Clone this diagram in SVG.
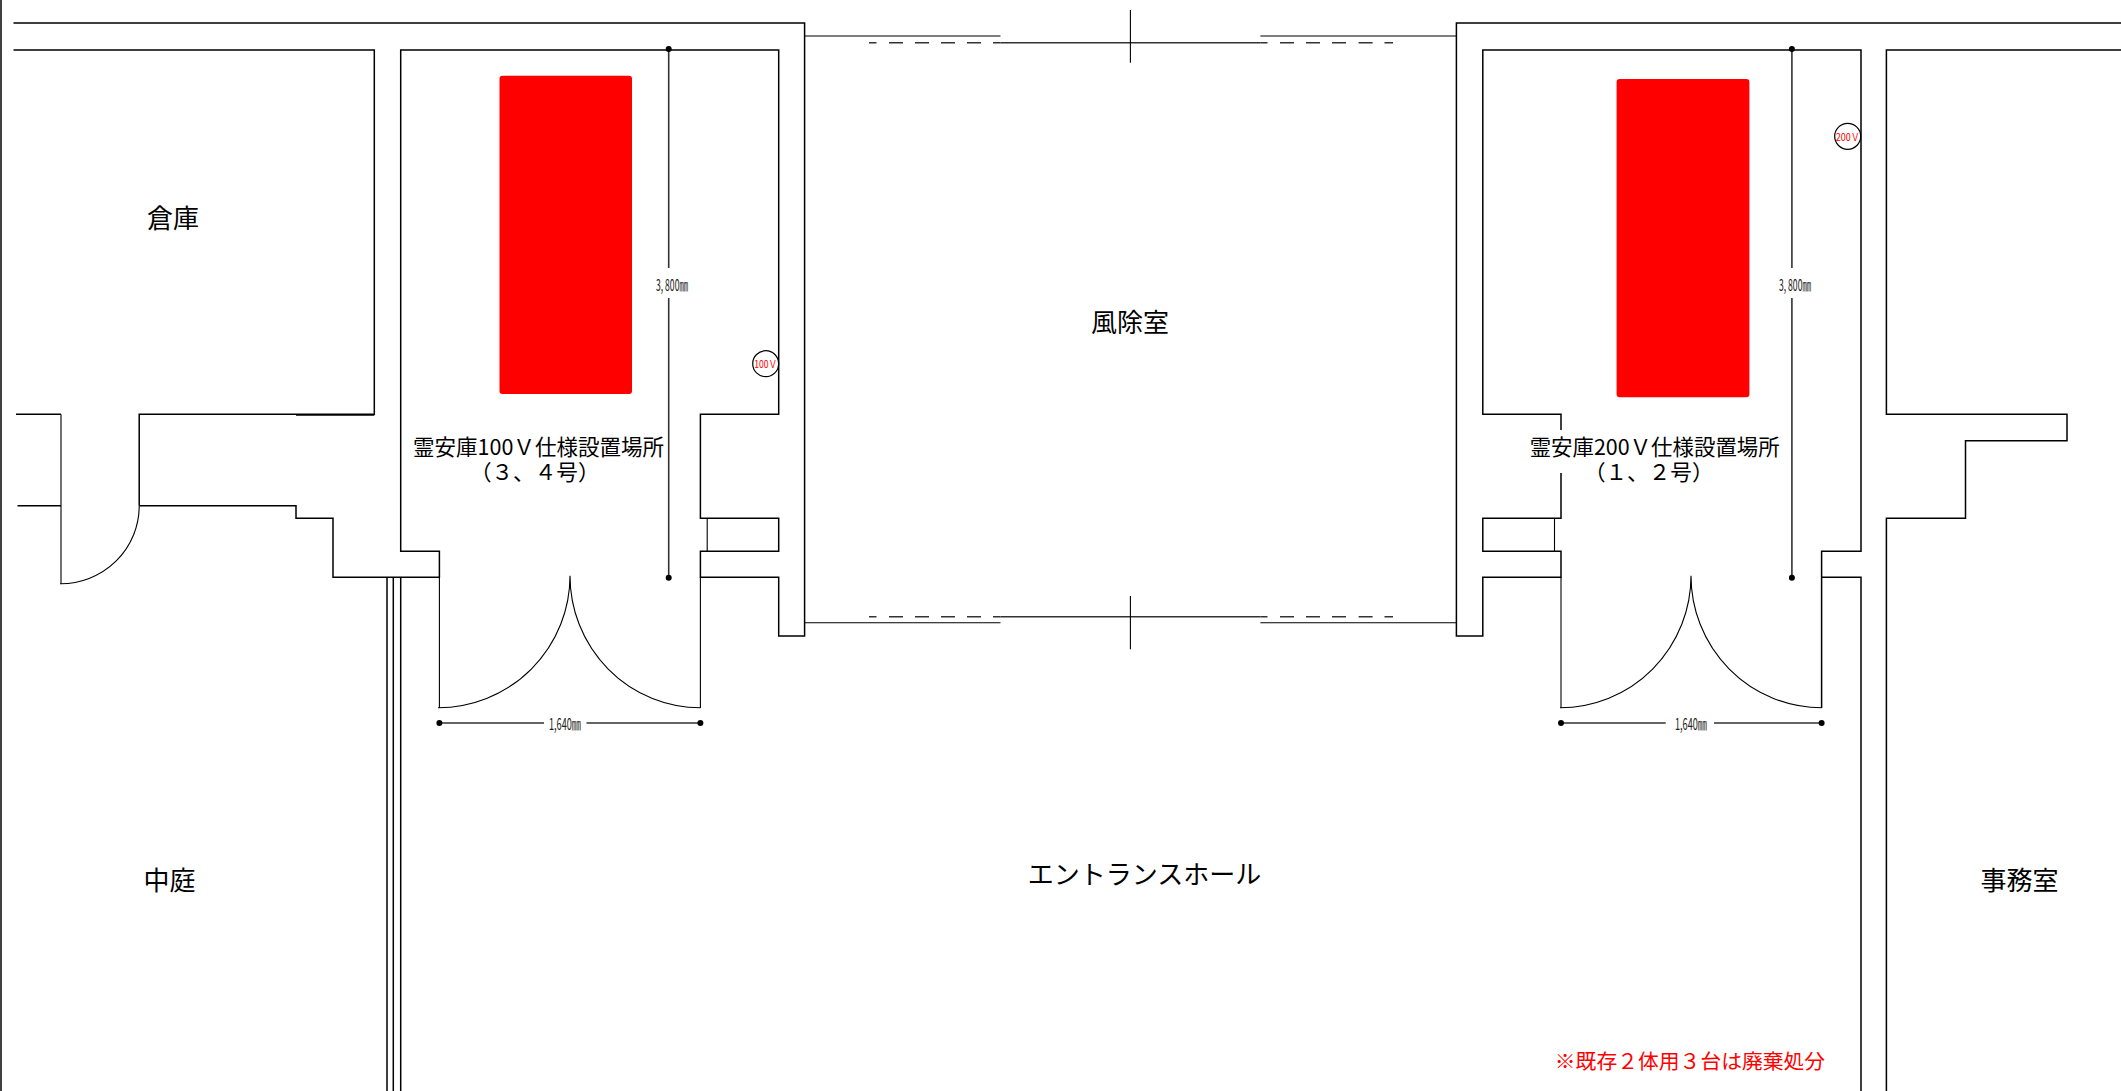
<svg xmlns="http://www.w3.org/2000/svg" width="2121" height="1091" viewBox="0 0 2121 1091">
<style>
.w{fill:none;stroke:#000;stroke-width:1.5}
.t{fill:none;stroke:#000;stroke-width:1.1}
.g{fill:none;stroke:#333;stroke-width:1.6}
.dot{fill:#000}
text{font-family:"Noto Sans CJK JP","Noto Sans",sans-serif}
.room{font-size:26px;text-anchor:middle;dominant-baseline:central;fill:#000}
.lab{font-size:21.6px;fill:#000;dominant-baseline:central}
.dim{font-size:16px;fill:#222;dominant-baseline:central}
.v{font-size:10px;fill:#f00;text-anchor:middle;dominant-baseline:central}
</style>
<rect width="2121" height="1091" fill="#fff"/>
<g id="walls">
<path class="w" d="M1 0V1091"/>
<path class="w" d="M13.500 23H804.600V636H778.700V577.300H700.400V551.300H778.700V518.300H700.400V414.300H778.700V50H400.700V551.300H439.400V577.300H333V518.300H296V505.700H139.200"/>
<path class="w" d="M13.500 50H374.300V414.300H139.200V505.700"/>
<path class="w" d="M296 415H374.300"/>
<path class="w" d="M61 414.300H16M61 505.700H17.500"/>
<path class="t" d="M61 414.300V583.700"/>
<path class="w" d="M400.700 577.300V1091M387 577.300V1091M393.300 577.300V1091"/>
<path class="t" d="M707.200 518.300V551.300"/>
<path class="t" d="M439.400 577.300V708M700.400 577.300V708"/>
<path class="w" d="M2121 23H1456.400V636H1482.800V577.300H1561V551.300H1482.800V518.300H1561V414.300H1482.800V50H1861V551.300H1821.600V708"/>
<path class="t" d="M1554.500 518.300V551.300"/>
<path class="w" d="M1821.600 577.300H1861V1091"/>
<path class="t" d="M1561 577.300V708"/>
<path class="w" d="M2121 50H1886.400V414.300H2067V440.700H1965.500V518.300H1886.400V1091"/>
</g>
<g id="windows">
<path class="t" d="M804.600 36H1000.500M1260.400 36H1456.400M804.600 622.700H1000.500M1260.400 622.700H1456.400"/>
<path class="g" d="M1000.500 42.700H1260.400M1000.500 616.700H1260.400"/>
<path class="t" d="M1130.400 10V62.700M1130.400 596V649.300"/>
<path class="g" d="M869 42.700H876.500M889 42.700H903M915 42.700H929M941 42.700H955M967 42.700H981M993 42.700H1000.500M1260.400 42.700H1267.500M1280 42.700H1294M1306 42.700H1320M1332 42.700H1346M1358.600 42.700H1372.600M1384.500 42.700H1393"/>
<path class="g" d="M869 616.700H876.500M889 616.700H903M915 616.700H929M941 616.700H955M967 616.700H981M993 616.700H1000.500M1260.400 616.700H1267.500M1280 616.700H1294M1306 616.700H1320M1332 616.700H1346M1358.600 616.700H1372.600M1384.500 616.700H1393"/>
</g>
<g id="doors">
<path class="t" d="M60 583.700A78.500 77.700 0 0 0 139.200 506"/>
<path class="t" d="M438 707.700A132 132 0 0 0 570 575.700M700.400 707.700A130.400 132 0 0 1 570 575.700"/>
<path class="t" d="M1560 707.700A131 132 0 0 0 1691 575.700M1821.600 707.700A130.600 132 0 0 1 1691 575.700"/>
</g>
<g id="dimensions">
<path class="g" d="M439.400 723H544M586.500 723H700.400M668.700 49V268M668.700 298V577.700"/>
<path class="g" d="M1561 723H1665.700M1714 723H1821.600M1791.900 49V268M1791.900 298V577.700"/>
<circle class="dot" cx="439.400" cy="723" r="3"/><circle class="dot" cx="700.400" cy="723" r="3"/>
<circle class="dot" cx="668.700" cy="49" r="3"/><circle class="dot" cx="668.700" cy="577.700" r="3"/>
<circle class="dot" cx="1561" cy="723" r="3"/><circle class="dot" cx="1821.600" cy="723" r="3"/>
<circle class="dot" cx="1791.900" cy="49" r="3"/><circle class="dot" cx="1791.900" cy="577.700" r="3"/>
<text class="dim" x="549" y="722.500" textLength="32" lengthAdjust="spacingAndGlyphs">1,640㎜</text>
<text class="dim" x="1675" y="722.500" textLength="32" lengthAdjust="spacingAndGlyphs">1,640㎜</text>
<text class="dim" x="656" y="284" textLength="32" lengthAdjust="spacingAndGlyphs">3, 800㎜</text>
<text class="dim" x="1779" y="284" textLength="32" lengthAdjust="spacingAndGlyphs">3, 800㎜</text>
</g>
<g id="cabinet-100v"><rect x="499.500" y="75.700" width="132.500" height="318.300" rx="3" fill="#f00"/></g>
<g id="cabinet-200v"><rect x="1616.600" y="79" width="132.800" height="318.300" rx="3" fill="#f00"/></g>
<g id="outlet-100v">
<circle cx="765.700" cy="363.700" r="13" fill="none" stroke="#000" stroke-width="1.2"/>
<text class="v" x="765.700" y="363.700" textLength="23" lengthAdjust="spacingAndGlyphs">100Ｖ</text>
</g>
<g id="outlet-200v">
<circle cx="1847.700" cy="136.300" r="13" fill="none" stroke="#000" stroke-width="1.2"/>
<text class="v" x="1847.700" y="136.300" textLength="24" lengthAdjust="spacingAndGlyphs">200Ｖ</text>
</g>
<g id="label-100v">
<text class="lab" x="413" y="445.500" textLength="251" lengthAdjust="spacingAndGlyphs">霊安庫100Ｖ仕様設置場所</text>
<text class="lab" x="534.700" y="470.500" text-anchor="middle">（３、４号）</text>
</g>
<g id="label-200v">
<rect x="1530" y="430" width="250" height="43" fill="#fff"/>
<text class="lab" x="1529.700" y="445.500" textLength="250" lengthAdjust="spacingAndGlyphs">霊安庫200Ｖ仕様設置場所</text>
<text class="lab" x="1648.700" y="470.500" text-anchor="middle">（１、２号）</text>
</g>
<g id="room-souko"><text class="room" x="173" y="216.300">倉庫</text></g>
<g id="room-fujoshitsu"><text class="room" x="1130" y="320.500">風除室</text></g>
<g id="room-nakaniwa"><text class="room" x="169.500" y="878.300">中庭</text></g>
<g id="room-entrance"><text class="room" x="1144.500" y="872.300">エントランスホール</text></g>
<g id="room-jimushitsu"><text class="room" x="2019.600" y="878.300">事務室</text></g>
<g id="note"><text x="1690" y="1060" font-size="20.800" fill="#f00" text-anchor="middle" dominant-baseline="central">※既存２体用３台は廃棄処分</text></g>
</svg>
